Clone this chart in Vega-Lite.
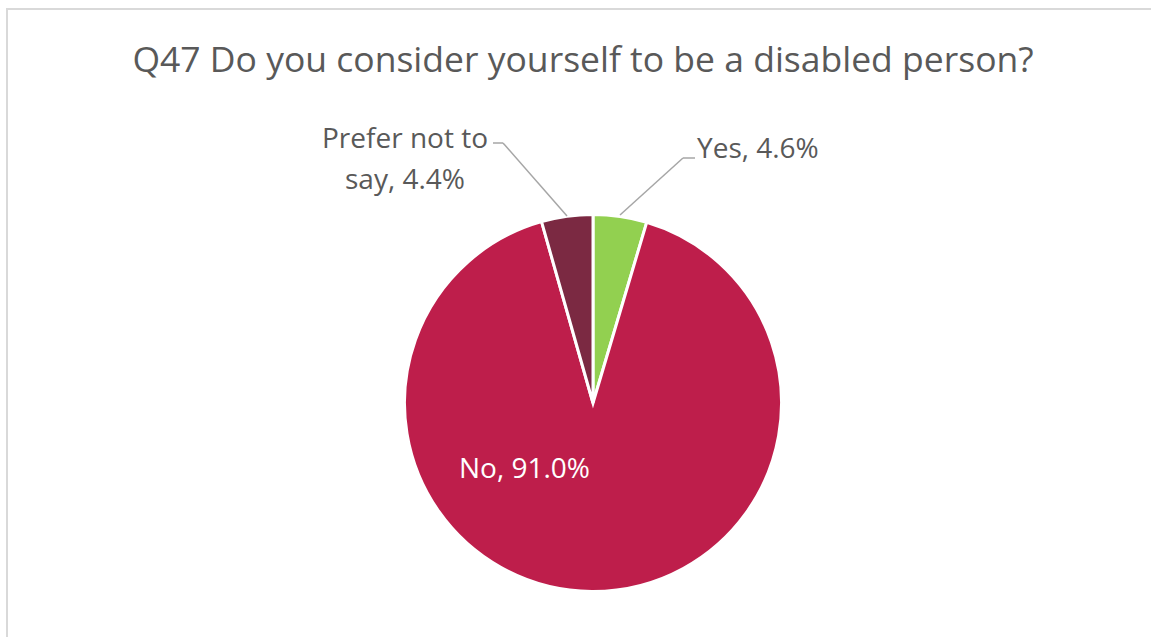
{
  "$schema": "https://vega.github.io/schema/vega-lite/v6.json",
  "autosize": "none",
  "padding": {"left": 7, "top": 9, "right": 0, "bottom": 0},
  "width": 1160,
  "height": 640,
  "background": "white",
  "config": {"view": {"stroke": "#d9d9d9", "strokeWidth": 2}, "font": "Open Sans"},
  "data": {"values": [
    {"category": "Yes", "value": 4.6, "order": 1, "label": "Yes, 4.6%"},
    {"category": "No", "value": 91.0, "order": 2, "label": "No, 91.0%"},
    {"category": "Prefer not to say", "value": 4.4, "order": 3, "label": ["Prefer not to", "say, 4.4%"]}
  ]},
  "layer": [
    {
      "mark": {"type": "arc", "outerRadius": 188.5, "stroke": "white", "strokeWidth": 3},
      "encoding": {
        "x": {"datum": 0, "type": "quantitative", "scale": {"domain": [-586, 574], "nice": false, "zero": false}, "axis": null},
        "y": {"datum": 0, "type": "quantitative", "scale": {"domain": [-246, 394], "nice": false, "zero": false}, "axis": null},
        "theta": {"field": "value", "type": "quantitative", "stack": true},
        "order": {"field": "order", "type": "quantitative"},
        "color": {"field": "category", "type": "nominal", "scale": {"domain": ["Yes", "No", "Prefer not to say"], "range": ["#92d050", "#be1e4b", "#7b2942"]}, "legend": null}
      }
    },
    {
      "data": {"values": [{}]},
      "mark": {"type": "rule", "color": "#a6a6a6", "strokeWidth": 1.5},
      "encoding": {"x": {"datum": 27, "type": "quantitative"}, "y": {"datum": 188, "type": "quantitative"}, "x2": {"datum": 90}, "y2": {"datum": 245}}
    },
    {
      "data": {"values": [{}]},
      "mark": {"type": "rule", "color": "#a6a6a6", "strokeWidth": 1.5},
      "encoding": {"x": {"datum": 90, "type": "quantitative"}, "y": {"datum": 245, "type": "quantitative"}, "x2": {"datum": 102}, "y2": {"datum": 245}}
    },
    {
      "data": {"values": [{}]},
      "mark": {"type": "rule", "color": "#a6a6a6", "strokeWidth": 1.5},
      "encoding": {"x": {"datum": -26, "type": "quantitative"}, "y": {"datum": 187, "type": "quantitative"}, "x2": {"datum": -90}, "y2": {"datum": 260}}
    },
    {
      "data": {"values": [{}]},
      "mark": {"type": "rule", "color": "#a6a6a6", "strokeWidth": 1.5},
      "encoding": {"x": {"datum": -90, "type": "quantitative"}, "y": {"datum": 260, "type": "quantitative"}, "x2": {"datum": -100}, "y2": {"datum": 260}}
    },
    {
      "transform": [{"filter": "datum.category === 'Yes'"}],
      "mark": {"type": "text", "align": "left", "baseline": "alphabetic", "fontSize": 28, "color": "#595959"},
      "encoding": {"x": {"datum": 104, "type": "quantitative"}, "y": {"datum": 245, "type": "quantitative"}, "text": {"field": "label"}}
    },
    {
      "transform": [{"filter": "datum.category === 'Prefer not to say'"}],
      "mark": {"type": "text", "align": "center", "baseline": "alphabetic", "fontSize": 28, "lineHeight": 41, "color": "#595959"},
      "encoding": {"x": {"datum": -188, "type": "quantitative"}, "y": {"datum": 255, "type": "quantitative"}, "text": {"field": "label"}}
    },
    {
      "transform": [{"filter": "datum.category === 'No'"}],
      "mark": {"type": "text", "align": "center", "baseline": "alphabetic", "fontSize": 28, "color": "white"},
      "encoding": {"x": {"datum": -68.5, "type": "quantitative"}, "y": {"datum": -75, "type": "quantitative"}, "text": {"field": "label"}}
    },
    {
      "data": {"values": [{"title": "Q47 Do you consider yourself to be a disabled person?"}]},
      "mark": {"type": "text", "align": "center", "baseline": "alphabetic", "fontSize": 35.5, "color": "#595959"},
      "encoding": {"x": {"datum": -10, "type": "quantitative"}, "y": {"datum": 331, "type": "quantitative"}, "text": {"field": "title"}}
    }
  ]
}
